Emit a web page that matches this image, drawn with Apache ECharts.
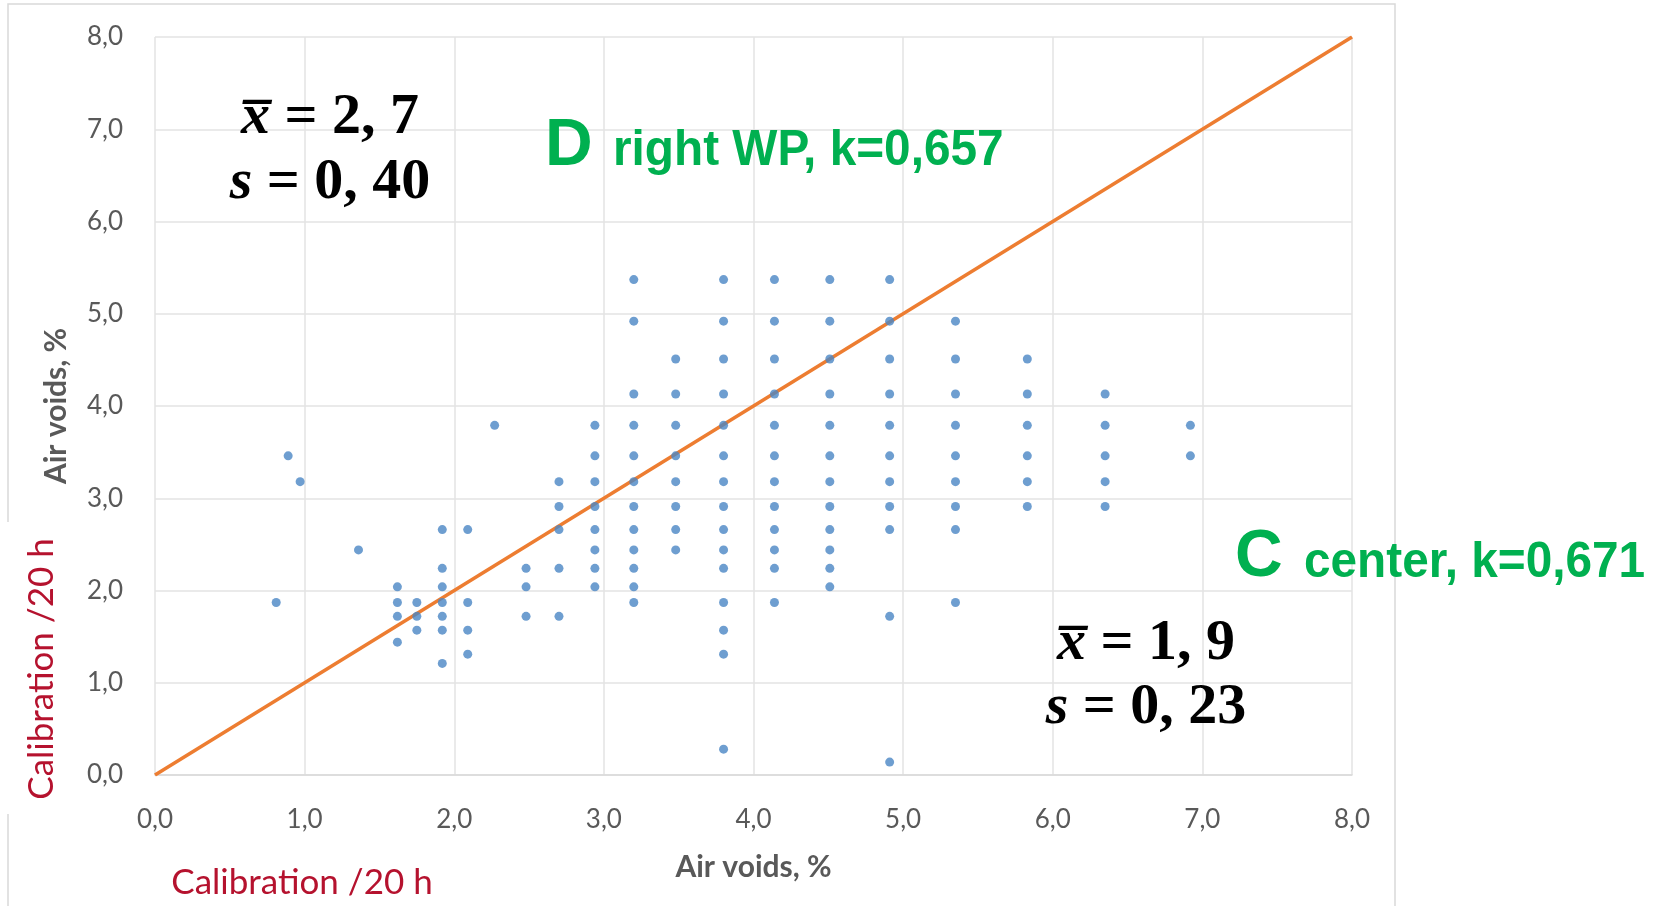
<!DOCTYPE html>
<html>
<head>
<meta charset="utf-8">
<title>Air voids – calibration /20 h</title>
<script src="https://cdn.jsdelivr.net/npm/echarts@6/dist/echarts.min.js"></script>
<style>
  html, body { margin: 0; padding: 0; background: #ffffff; }
  #chart { width: 1653px; height: 906px; }
</style>
</head>
<body>
<div id="chart"></div>
<script>
// Air-void measurements: x positions of the measurement columns
const colX = [0.81, 0.89, 0.97, 1.36, 1.62, 1.75, 1.92, 2.09, 2.27, 2.48, 2.70,
              2.94, 3.20, 3.48, 3.80, 4.14, 4.51, 4.91, 5.35, 5.83, 6.35, 6.92];
// y values found in each column (same order as colX)
const colY = [
  [1.87],
  [3.46],
  [3.18],
  [2.44],
  [2.04, 1.87, 1.72, 1.44],
  [1.87, 1.72, 1.57],
  [2.66, 2.24, 2.04, 1.87, 1.72, 1.57, 1.21],
  [2.66, 1.87, 1.57, 1.31],
  [3.79],
  [2.24, 2.04, 1.72],
  [3.18, 2.91, 2.66, 2.24, 1.72],
  [3.79, 3.46, 3.18, 2.91, 2.66, 2.44, 2.24, 2.04],
  [5.37, 4.92, 4.13, 3.79, 3.46, 3.18, 2.91, 2.66, 2.44, 2.24, 2.04, 1.87],
  [4.51, 4.13, 3.79, 3.46, 3.18, 2.91, 2.66, 2.44],
  [5.37, 4.92, 4.51, 4.13, 3.79, 3.46, 3.18, 2.91, 2.66, 2.44, 2.24, 1.87, 1.57, 1.31, 0.28],
  [5.37, 4.92, 4.51, 4.13, 3.79, 3.46, 3.18, 2.91, 2.66, 2.44, 2.24, 1.87],
  [5.37, 4.92, 4.51, 4.13, 3.79, 3.46, 3.18, 2.91, 2.66, 2.44, 2.24, 2.04],
  [5.37, 4.92, 4.51, 4.13, 3.79, 3.46, 3.18, 2.91, 2.66, 1.72, 0.14],
  [4.92, 4.51, 4.13, 3.79, 3.46, 3.18, 2.91, 2.66, 1.87],
  [4.51, 4.13, 3.79, 3.46, 3.18, 2.91],
  [4.13, 3.79, 3.46, 3.18, 2.91],
  [3.79, 3.46]
];
// 1:1 reference line
const lineX = [0, 8];
const lineY = [0, 8];
// axis range
const axisMin = 0;
const axisMax = 8;
const axisStep = 1;

const points = [];
colX.forEach((x, i) => colY[i].forEach(y => points.push([x, y])));
const linePts = lineX.map((x, i) => [x, lineY[i]]);

const fmt = v => v.toFixed(1).replace('.', ',');
const sans = 'Lato, "Open Sans", sans-serif';
const serif = '"Liberation Serif", "DejaVu Serif", serif';
const tickFont = { color: '#595959', fontSize: 26, fontFamily: sans };
const titleFont = { color: '#595959', fontSize: 30, fontWeight: 'bold', fontFamily: sans };
const gridLine = { lineStyle: { color: '#e3e3e3', width: 1.5 } };

// one line of a statistics block: italic variable followed by the value
function statText(x, y, symbol, rest) {
  return {
    type: 'text', z: 11, x: x, y: y,
    style: {
      text: '{v|' + symbol + '}' + rest, textAlign: 'center', textVerticalAlign: 'middle',
      font: 'bold 58px ' + serif, fill: '#000',
      rich: { v: { font: 'italic bold 58px ' + serif, fill: '#000' } }
    }
  };
}

// green position label: big letter + condensed caption
function positionLabel(letter, lx, ly, caption, cx, cy) {
  return [
    { type: 'text', z: 11, x: lx, y: ly,
      style: { text: letter, fill: '#00B050', font: 'bold 66px "Liberation Sans", Arial, sans-serif',
               textAlign: 'left', textVerticalAlign: 'bottom' } },
    { type: 'text', z: 11, x: cx, y: cy, scaleX: 0.955,
      style: { text: caption, fill: '#00B050', font: 'bold 50px "Liberation Sans", Arial, sans-serif',
               textAlign: 'left', textVerticalAlign: 'bottom' } }
  ];
}

const chart = echarts.init(document.getElementById('chart'), null, { renderer: 'canvas' });

chart.setOption({
  animation: false,
  backgroundColor: '#ffffff',
  grid: { left: 155, right: 301, top: 37, bottom: 131 },
  xAxis: {
    type: 'value', min: axisMin, max: axisMax, interval: axisStep,
    name: 'Air voids, %', nameLocation: 'middle', nameGap: 77,
    nameTextStyle: titleFont,
    axisLine: { show: true, lineStyle: { color: '#d9d9d9', width: 1.5 } },
    axisTick: { show: false },
    axisLabel: Object.assign({ formatter: fmt, margin: 32 }, tickFont),
    splitLine: Object.assign({ show: true }, gridLine)
  },
  yAxis: {
    type: 'value', min: axisMin, max: axisMax, interval: axisStep,
    name: 'Air voids, %', nameLocation: 'middle', nameGap: 84, nameRotate: 90,
    nameTextStyle: titleFont,
    axisLine: { show: false },
    axisTick: { show: false },
    axisLabel: Object.assign({ formatter: fmt, margin: 32 }, tickFont),
    splitLine: Object.assign({ show: true }, gridLine)
  },
  series: [
    {
      type: 'line',
      data: linePts,
      symbol: 'none',
      lineStyle: { color: '#ED7D31', width: 3.5 },
      z: 2
    },
    {
      type: 'scatter',
      data: points,
      symbol: 'circle',
      symbolSize: 9,
      itemStyle: { color: '#4A86C4' },
      z: 3
    }
  ],
  graphic: [
    // outer chart frame
    { type: 'polyline', silent: true, z: -1,
      shape: { points: [[8, 906], [8, 4], [1395, 4], [1395, 906]] },
      style: { stroke: '#d9d9d9', lineWidth: 1.5, fill: null } },
    { type: 'rect', silent: true, z: 10,
      shape: { x: 0, y: 522, width: 70, height: 292 },
      style: { fill: '#ffffff' } },
    // calibration labels
    { type: 'text', z: 11, x: 42, y: 669, rotation: Math.PI / 2,
      style: { text: 'Calibration /20 h', fill: '#B5122E', font: '35px ' + sans,
               textAlign: 'center', textVerticalAlign: 'middle' } },
    { type: 'text', z: 11, x: 302, y: 883,
      style: { text: 'Calibration /20 h', fill: '#B5122E', font: '35px ' + sans,
               textAlign: 'center', textVerticalAlign: 'middle' } },
    // statistics, upper left
    statText(330, 118, 'x\u0305', ' = 2, 7'),
    statText(330, 183, 's', ' = 0, 40'),
    // statistics, lower right
    statText(1146, 644, 'x\u0305', ' = 1, 9'),
    statText(1146, 708, 's', ' = 0, 23')
  ]
    .concat(positionLabel('D', 545, 180, 'right WP, k=0,657', 613, 176.5))
    .concat(positionLabel('C', 1235, 591, 'center, k=0,671', 1304, 588.5))
});
</script>
</body>
</html>
